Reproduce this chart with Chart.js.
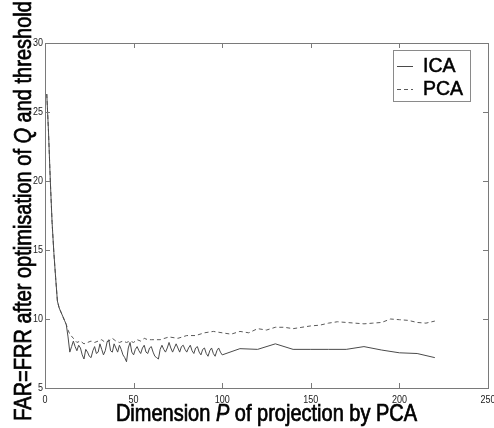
<!DOCTYPE html>
<html>
<head>
<meta charset="utf-8">
<script src="https://cdn.jsdelivr.net/npm/chart.js@4/dist/chart.umd.min.js"></script>
<style>
  html, body { margin: 0; padding: 0; background: #fff; }
  #wrap { width: 494px; height: 428px; }
</style>
</head>
<body>
<div id="wrap"><canvas id="farChart" width="494" height="428"></canvas></div>
<script>
// Data
const icaDims = [
  1, 2, 3, 4, 5, 6, 7, 8, 9, 10, 11, 12, 13, 14, 15, 16, 17, 18, 19, 20,
  21, 22, 23, 24, 25, 26, 27, 28, 29, 30, 31, 32, 33, 34, 35, 36, 37, 38, 39, 40,
  41, 42, 43, 44, 45, 46, 47, 48, 49, 50, 51, 52, 53, 54, 55, 56, 57, 58, 59, 60,
  61, 62, 63, 64, 65, 66, 67, 68, 69, 70, 71, 72, 73, 74, 75, 76, 77, 78, 79, 80,
  81, 82, 83, 84, 85, 86, 87, 88, 89, 90, 91, 92, 93, 94, 95, 96, 97, 98, 99, 100,
  110, 120, 130, 140, 150, 160, 170, 180, 190, 200, 210, 220
];
const icaValues = [
  26.3, 23.5, 20.0, 17.0, 14.8, 13.0, 11.3, 10.8, 10.5, 10.2, 9.9, 9.6, 8.7, 7.6, 8.0, 8.4, 8.0, 7.7, 8.1, 7.9,
  7.4, 7.1, 7.8, 7.6, 7.3, 7.2, 7.7, 8.0, 7.5, 7.6, 8.2, 7.8, 7.4, 7.7, 8.3, 8.5, 7.7, 7.6, 8.2, 7.9,
  7.6, 8.1, 7.8, 7.4, 7.2, 6.9, 7.9, 8.3, 7.6, 7.4, 7.8, 8.0, 7.7, 7.5, 7.9, 8.1, 7.6, 7.5, 7.9, 8.0,
  7.6, 7.3, 7.2, 7.1, 7.8, 8.1, 7.8, 7.6, 7.9, 8.3, 7.9, 7.6, 7.9, 8.2, 7.9, 7.6, 8.0, 8.1, 7.8, 7.6,
  7.9, 8.1, 7.7, 7.5, 7.9, 8.0, 7.6, 7.4, 7.8, 7.9, 7.5, 7.3, 7.7, 7.9, 7.5, 7.3, 7.7, 7.9, 7.6, 7.4,
  7.85, 7.8, 8.2, 7.8, 7.8, 7.8, 7.8, 8.0, 7.75, 7.55, 7.5, 7.2
];
const pcaDims = [
  1, 2, 3, 4, 5, 6, 7, 8, 9, 10, 11, 12, 13, 14,
  16, 18, 20, 22, 24, 26, 28, 30, 32, 34, 36, 38, 40, 42, 44, 46, 48, 50, 52, 54, 56, 58, 60,
  65, 70, 75, 80, 85, 90, 95, 100, 105, 110, 115, 120, 125, 130, 135, 140, 145, 150,
  155, 160, 165, 170, 175, 180, 185, 190, 195, 200, 205, 210, 215, 220
];
const pcaValues = [
  26.3, 23.5, 20.0, 17.0, 14.8, 13.0, 11.3, 10.8, 10.5, 10.2, 9.9, 9.6, 9.2, 8.9,
  8.6, 8.3, 8.4, 8.2, 8.3, 8.4, 8.3, 8.4, 8.5, 8.3, 8.4, 8.6, 8.4, 8.3, 8.4, 8.3, 8.4, 8.3, 8.5, 8.4, 8.6, 8.5, 8.5,
  8.5, 8.7, 8.6, 8.8, 8.8, 9.0, 9.1, 9.0, 8.9, 9.1, 9.0, 9.3, 9.2, 9.4, 9.4, 9.3, 9.4, 9.5,
  9.55, 9.7, 9.8, 9.75, 9.7, 9.65, 9.7, 9.75, 10.0, 9.95, 9.9, 9.75, 9.7, 9.85
];
const seriesLabels = ['ICA', 'PCA'];
const xTicks = [0, 50, 100, 150, 200, 250];
const yTicks = [5, 10, 15, 20, 25, 30];

const FONT = '"Liberation Sans", Arial, Helvetica, sans-serif';
const LINE = '#4a4a4a';
const FRAME = '#7a7a7a';

function toPoints(xs, ys) {
  return xs.map((x, i) => ({ x: x, y: ys[i] }));
}

// draw a run of text pieces (some italic), stretched vertically like the original print
function drawParts(ctx, parts, size, sy) {
  let total = 0;
  const widths = parts.map(p => {
    ctx.font = (p[1] ? 'italic ' : '') + size + 'px ' + FONT;
    const w = ctx.measureText(p[0]).width;
    total += w;
    return w;
  });
  ctx.scale(1, sy);
  ctx.strokeStyle = '#000';
  ctx.lineWidth = 0.6;
  let x = -total / 2;
  parts.forEach((p, i) => {
    ctx.font = (p[1] ? 'italic ' : '') + size + 'px ' + FONT;
    ctx.fillText(p[0], x, 0);
    ctx.strokeText(p[0], x, 0);
    x += widths[i];
  });
}

const paperStyle = {
  id: 'paperStyle',
  afterDraw(chart) {
    const ctx = chart.ctx;
    const area = chart.chartArea;
    const xs = chart.scales.x;
    const ys = chart.scales.y;

    ctx.save();
    // frame with inward ticks on all four sides
    ctx.strokeStyle = FRAME;
    ctx.lineWidth = 1;
    ctx.strokeRect(Math.round(area.left) + 0.5, Math.round(area.top) + 0.5,
      Math.round(area.right - area.left), Math.round(area.bottom - area.top));
    ctx.beginPath();
    xTicks.forEach(v => {
      const px = Math.round(xs.getPixelForValue(v)) + 0.5;
      ctx.moveTo(px, area.bottom);
      ctx.lineTo(px, area.bottom - 5);
      ctx.moveTo(px, area.top);
      ctx.lineTo(px, area.top + 5);
    });
    yTicks.forEach(v => {
      const py = Math.round(ys.getPixelForValue(v)) + 0.5;
      ctx.moveTo(area.left, py);
      ctx.lineTo(area.left + 5, py);
      ctx.moveTo(area.right, py);
      ctx.lineTo(area.right - 5, py);
    });
    ctx.stroke();

    // axis titles (drawn first so tick labels stay readable on top)
    ctx.fillStyle = '#000';
    ctx.textAlign = 'left';
    ctx.textBaseline = 'alphabetic';
    ctx.save();
    ctx.translate((area.left + area.right) / 2, 421);
    drawParts(ctx, [['Dimension ', false], ['P', true], [' of projection by PCA', false]], 20, 1.2);
    ctx.restore();

    ctx.save();
    ctx.translate(31, 211);
    ctx.rotate(-Math.PI / 2);
    drawParts(ctx, [['FAR=FRR after optimisation of ', false], ['Q', true], [' and threshold', false]], 20, 1.15);
    ctx.restore();

    // tick labels
    ctx.fillStyle = '#222';
    ctx.font = '9px ' + FONT;
    ctx.textBaseline = 'middle';
    ctx.textAlign = 'right';
    yTicks.forEach(v => {
      ctx.save();
      ctx.translate(area.left - 2, ys.getPixelForValue(v));
      ctx.scale(1, 1.3);
      ctx.fillText(String(v), 0, 0);
      ctx.restore();
    });
    ctx.textAlign = 'center';
    ctx.textBaseline = 'alphabetic';
    xTicks.forEach(v => {
      ctx.save();
      ctx.translate(xs.getPixelForValue(v), area.bottom + 15);
      ctx.scale(1, 1.3);
      ctx.fillText(String(v), 0, 0);
      ctx.restore();
    });

    // legend box
    const lx = 393.5, ly = 50.5, lw = 77, lh = 51;
    ctx.fillStyle = '#fff';
    ctx.fillRect(lx, ly, lw, lh);
    ctx.strokeStyle = '#8a8a8a';
    ctx.lineWidth = 1;
    ctx.strokeRect(lx, ly, lw, lh);
    const rows = [66, 89];
    chart.data.datasets.forEach((ds, i) => {
      ctx.strokeStyle = ds.borderColor;
      ctx.lineWidth = 1;
      ctx.setLineDash(ds.borderDash || []);
      ctx.beginPath();
      ctx.moveTo(397, rows[i] + 0.5);
      ctx.lineTo(413, rows[i] + 0.5);
      ctx.stroke();
      ctx.setLineDash([]);
      ctx.fillStyle = '#000';
      ctx.strokeStyle = '#000';
      ctx.lineWidth = 0.5;
      ctx.font = '19.5px ' + FONT;
      ctx.textAlign = 'left';
      ctx.textBaseline = 'middle';
      ctx.fillText(ds.label, 423, rows[i] + 1);
      ctx.strokeText(ds.label, 423, rows[i] + 1);
    });
    ctx.restore();
  }
};

const ctx = document.getElementById('farChart').getContext('2d');

new Chart(ctx, {
  type: 'line',
  data: {
    datasets: [{
      label: seriesLabels[0],
      data: toPoints(icaDims, icaValues),
      borderColor: LINE,
      borderWidth: 1,
      pointRadius: 0,
      tension: 0,
      fill: false
    }, {
      label: seriesLabels[1],
      data: toPoints(pcaDims, pcaValues),
      borderColor: '#5a5a5a',
      borderWidth: 1,
      borderDash: [4, 3],
      pointRadius: 0,
      tension: 0,
      fill: false
    }]
  },
  options: {
    responsive: false,
    animation: false,
    layout: {
      padding: { left: 45, top: 43, right: 6, bottom: 40 }
    },
    scales: {
      x: {
        type: 'linear',
        min: 0,
        max: 250,
        ticks: { display: false, stepSize: 50 },
        grid: { display: false, drawTicks: false },
        border: { display: false },
        title: { display: false }
      },
      y: {
        type: 'linear',
        min: 5,
        max: 30,
        ticks: { display: false, stepSize: 5 },
        grid: { display: false, drawTicks: false },
        border: { display: false },
        title: { display: false }
      }
    },
    plugins: {
      legend: { display: false },
      tooltip: { enabled: false }
    }
  },
  plugins: [paperStyle]
});
</script>
</body>
</html>
